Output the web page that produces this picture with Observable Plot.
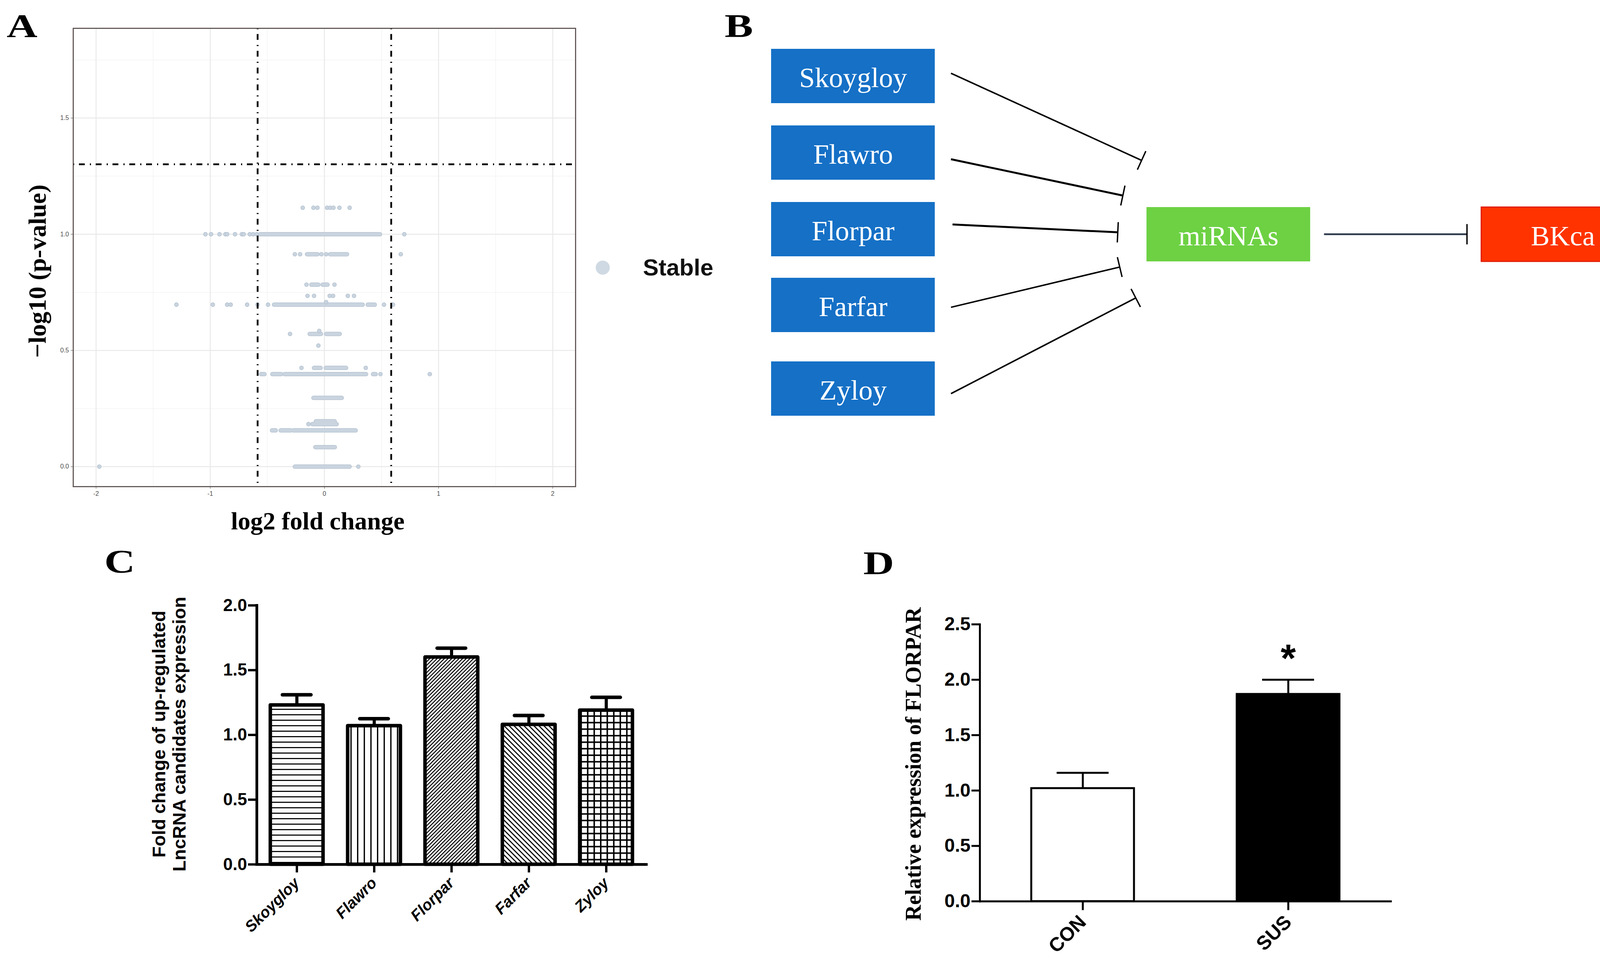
<!DOCTYPE html>
<html><head><meta charset="utf-8">
<script src="https://cdn.jsdelivr.net/npm/d3@7"></script>
<script src="https://cdn.jsdelivr.net/npm/@observablehq/plot@0.6"></script>
<style>
body{margin:0;background:#fff}
#root{position:relative;width:4227px;height:2475px;background:#fff;overflow:hidden}
.panel{position:absolute}
.panel svg{max-width:none !important;overflow:visible}
.letter{position:absolute;font-family:"Liberation Serif",serif;font-weight:bold;font-size:84px;line-height:1;transform:scaleX(1.3);transform-origin:left top;color:#000}
</style></head><body><div id="root"></div><script>
// ---------------- DATA ----------------
// Panel A: volcano plot (log2 fold change vs -log10 p)
const volcanoXTicks = [-2, -1, 0, 1, 2];
const volcanoXMinor = [-1.5, -0.5, 0.5, 1.5];
const volcanoYTicks = [0, 0.5, 1.0, 1.5];
const volcanoYMinor = [0.25, 0.75, 1.25, 1.75];
const foldThresholds = [-0.585, 0.585];
const pThreshold = 1.301;
// dense runs of overlapping points: [y, xStart, xEnd]
const volcanoRuns = [
  [1.0, -0.563, 0.487],
  [0.914, -0.152, -0.061], [0.914, 0.050, 0.198],
  [0.783, -0.114, -0.053], [0.783, -0.015, 0.027],
  [0.697, -0.441, 0.335], [0.697, 0.380, 0.441],
  [0.571, -0.129, -0.030], [0.571, 0.015, 0.134],
  [0.425, -0.091, -0.033], [0.425, 0.012, 0.190],
  [0.398, -0.555, -0.525], [0.398, -0.456, -0.380], [0.398, -0.350, 0.365], [0.398, 0.426, 0.449],
  [0.296, -0.096, 0.152],
  [0.195, -0.075, 0.090], [0.183, -0.105, 0.107],
  [0.156, -0.459, -0.426], [0.156, -0.383, -0.297], [0.156, -0.274, 0.274],
  [0.084, -0.079, 0.091],
  [0.0, -0.259, 0.221]
];
// isolated points: [y, [x values]]
const volcanoPoints = [
  [1.114, [-0.190, -0.096, -0.061, 0.023, 0.050, 0.079, 0.132, 0.221]],
  [1.0, [-1.042, -0.993, -0.919, -0.867, -0.852, -0.783, -0.723, -0.707, -0.654, -0.624, -0.593, 0.700]],
  [0.914, [-0.259, -0.213, -0.026, 0.015, 0.669]],
  [0.783, [-0.157, 0.088]],
  [0.735, [-0.148, -0.091, 0.046, 0.076, 0.205, 0.259]],
  [0.708, [0.015]],
  [0.697, [-1.296, -0.978, -0.852, -0.821, -0.677, -0.586, -0.494, 0.522, 0.601]],
  [0.584, [-0.045]],
  [0.571, [-0.301]],
  [0.521, [-0.053]],
  [0.425, [-0.201, 0.362]],
  [0.398, [0.491, 0.923]],
  [0.183, [-0.140]],
  [0.0, [-1.972, 0.297]]
];
const volcanoXLabel = "log2 fold change";
const volcanoYLabel = "\u2212log10 (p-value)";
const volcanoLegend = "Stable";

// Panel B: regulatory diagram
const lncNames = ["Skoygloy", "Flawro", "Florpar", "Farfar", "Zyloy"];
const hubName = "miRNAs";
const targetName = "BKca";

// Panel C: fold change of up-regulated lncRNA candidates
const lncFold = [1.23, 1.07, 1.60, 1.08, 1.19];
const lncSem = [0.08, 0.055, 0.07, 0.07, 0.10];
const cTitle = "Fold change of up-regulated\nLncRNA candidates expression";
const cYTicks = [0, 0.5, 1.0, 1.5, 2.0];

// Panel D: relative expression of FLORPAR
const groupNames = ["CON", "SUS"];
const groupMean = [1.02, 1.87];
const groupSem = [0.14, 0.13];
const groupSig = ["", "*"];
const dTitle = "Relative expression of FLORPAR";
const dYTicks = [0, 0.5, 1.0, 1.5, 2.0, 2.5];

// ---------------- BUILD ----------------
const root = document.getElementById("root");
function place(el, left, top, w, h) {
  const d = document.createElement("div");
  d.className = "panel";
  d.style.left = left + "px"; d.style.top = top + "px";
  if (w) d.style.width = w + "px";
  if (h) d.style.height = h + "px";
  d.appendChild(el); root.appendChild(d); return d;
}
function letter(t, left, capTop) {
  const d = document.createElement("div");
  d.className = "letter"; d.textContent = t;
  d.style.left = left + "px"; d.style.top = (capTop - 15) + "px";
  root.appendChild(d);
}

// ---- Panel A ----
const runs = volcanoRuns.map(([y, x1, x2]) => ({y, x1, x2}));
const pts = volcanoPoints.flatMap(([y, xs]) => xs.map(x => ({x, y})));
const ptFill = "#c9d4df", ptStroke = "#b3c1cf";
const serif = "Liberation Serif";
const A = Plot.plot({
  width: 1500, height: 1400,
  marginLeft: 187, marginRight: 27, marginTop: 72, marginBottom: 155,
  x: {domain: [-2.2, 2.2]},
  y: {domain: [-0.086, 1.886]},
  style: {background: "transparent", overflow: "visible"},
  marks: [
    Plot.ruleX(volcanoXMinor, {stroke: "#f3f3f3", strokeWidth: 1.5}),
    Plot.ruleY(volcanoYMinor, {stroke: "#f3f3f3", strokeWidth: 1.5}),
    Plot.ruleX(volcanoXTicks, {stroke: "#e9e9e9", strokeWidth: 2.5}),
    Plot.ruleY(volcanoYTicks, {stroke: "#e9e9e9", strokeWidth: 2.5}),
    Plot.link(runs, {x1: "x1", x2: "x2", y1: "y", y2: "y", stroke: ptStroke, strokeWidth: 11, strokeLinecap: "round"}),
    Plot.link(runs, {x1: "x1", x2: "x2", y1: "y", y2: "y", stroke: ptFill, strokeWidth: 8.5, strokeLinecap: "round"}),
    Plot.dot(pts, {x: "x", y: "y", r: 5, fill: ptFill, stroke: ptStroke, strokeWidth: 1.3}),
    Plot.ruleX(foldThresholds, {stroke: "#000", strokeWidth: 4.5, strokeDasharray: "3,12,15,13"}),
    Plot.ruleY([pThreshold], {stroke: "#000", strokeWidth: 4.5, strokeDasharray: "3,12,15,13"}),
    Plot.frame({stroke: "#5f5353", strokeWidth: 2.8}),
    Plot.axisX({ticks: volcanoXTicks, tickFormat: d => String(d), tickSize: 6, tickPadding: 6, fontSize: 16, color: "#4d4d4d", label: null, fontFamily: "Liberation Sans"}),
    Plot.axisY({ticks: volcanoYTicks, tickFormat: d3.format(".1f"), tickSize: 6, tickPadding: 5, fontSize: 16, color: "#4d4d4d", label: null, fontFamily: "Liberation Sans"}),
    Plot.text([volcanoXLabel], {text: d => d, frameAnchor: "bottom", textAnchor: "middle", lineAnchor: "middle", dx: -17, dy: 89, fontSize: 64, fontWeight: "bold", fontFamily: serif, fill: "#000"}),
    Plot.text([volcanoYLabel], {text: d => d, frameAnchor: "left", textAnchor: "middle", lineAnchor: "middle", rotate: -90, dx: -91, dy: 35, fontSize: 64, fontWeight: "bold", fontFamily: serif, fill: "#000"})
  ]
});
place(A, 0, 0, 1500, 1400);

// legend for A
const leg = document.createElement("div");
leg.style.cssText = "position:absolute;left:1520px;top:650px;display:flex;align-items:center;gap:0;font-family:'Liberation Sans',sans-serif;font-weight:bold;font-size:60px;color:#111";
leg.innerHTML = `<svg width="46" height="46" style="margin-right:80px"><circle cx="23" cy="23" r="18" fill="#cfd9e3"/></svg><span>${volcanoLegend}</span>`;
root.appendChild(leg);

// ---- Panel B ----
const BW = 2377, BH = 1050;
const rowTops = [45, 241, 437, 631, 845];
const boxH = 139;
const nodes = [
  ...lncNames.map((n, i) => ({name: n, x1: 124, x2: 543, y1: rowTops[i], y2: rowTops[i] + boxH, fill: "#1570c6", stroke: "none"})),
  {name: hubName, x1: 1085, x2: 1504, y1: 450, y2: 589, fill: "#6dd143", stroke: "none"},
  {name: targetName, x1: 1942, x2: 2359, y1: 450, y2: 589, fill: "#ff3300", stroke: "#e01a00"}
];
const edgeEnds = [
  [[584, 107], [1072, 330]],
  [[584, 327], [1024, 420]],
  [[588, 494], [1011, 514]],
  [[584, 706], [1016, 603]],
  [[584, 927], [1057, 682]]
];
const edges = edgeEnds.map(([a, b], i) => ({x1: a[0], y1: a[1], x2: b[0], y2: b[1], stroke: "#000", w: i === 1 || i === 2 ? 5 : 3.8}));
edges.push({x1: 1539, y1: 519, x2: 1905, y2: 519, stroke: "#2c3a4a", w: 4.5});
const tbars = edges.map(e => {
  const dx = e.x2 - e.x1, dy = e.y2 - e.y1, L = Math.hypot(dx, dy);
  const px = -dy / L, py = dx / L, h = 26;
  return {x1: e.x2 + px * h, y1: e.y2 + py * h, x2: e.x2 - px * h, y2: e.y2 - py * h};
});
const B = Plot.plot({
  width: BW, height: BH, margin: 0, axis: null,
  x: {domain: [0, BW], range: [0, BW]},
  y: {domain: [0, BH], range: [0, BH]},
  style: {background: "transparent", overflow: "visible"},
  marks: [
    Plot.rect(nodes, {x1: "x1", x2: "x2", y1: "y1", y2: "y2", fill: d => d.fill, stroke: d => d.stroke, strokeWidth: 3}),
    Plot.text(nodes, {x: d => (d.x1 + d.x2) / 2, y: d => (d.y1 + d.y2) / 2, text: "name", dy: 5, fill: "#fff", fontSize: 72, fontFamily: serif}),
    Plot.link(edges, {x1: "x1", y1: "y1", x2: "x2", y2: "y2", stroke: d => d.stroke, strokeWidth: d => d.w}),
    Plot.link(tbars, {x1: "x1", y1: "y1", x2: "x2", y2: "y2", stroke: "#000", strokeWidth: 3.5})
  ]
});
place(B, 1850, 80, BW, BH);

// ---- Panel C ----
const lncData = lncNames.map((name, i) => ({name, fold: lncFold[i], sem: lncSem[i]}));
const sans = "Liberation Sans";
const C = Plot.plot({
  width: 1500, height: 1095,
  marginLeft: 457, marginRight: 46, marginTop: 169, marginBottom: 263,
  x: {domain: lncNames, paddingInner: 0.32, paddingOuter: 0.17},
  y: {domain: [0, 2]},
  style: {background: "transparent", overflow: "visible"},
  marks: [
    Plot.ruleX(lncData, {x: "name", y1: "fold", y2: d => d.fold + d.sem, stroke: "#000", strokeWidth: 8}),
    Plot.tickY(lncData, {x: "name", y: d => d.fold + d.sem, stroke: "#000", strokeWidth: 9, strokeLinecap: "round", insetLeft: 31, insetRight: 31}),
    ...lncNames.map((n, i) => Plot.barY(lncData.filter(d => d.name === n), {x: "name", y: "fold", fill: `url(#cpat${i})`, stroke: "#000", strokeWidth: 9, strokeLinejoin: "round"})),
    Plot.frame({anchor: "left", stroke: "#000", strokeWidth: 7}),
    Plot.frame({anchor: "bottom", stroke: "#000", strokeWidth: 7}),
    Plot.axisY({ticks: cYTicks, tickFormat: d3.format(".1f"), tickSize: 22, strokeWidth: 6, tickPadding: 3, fontSize: 44, fontWeight: "bold", fontFamily: sans, color: "#000", label: null}),
    Plot.axisX({tickSize: 21, strokeWidth: 6, tickRotate: -45, tickPadding: 20, fontSize: 40, fontWeight: "bold", fontStyle: "italic", fontFamily: sans, color: "#000", label: null}),
    Plot.text([cTitle], {text: d => d, frameAnchor: "left", textAnchor: "middle", lineAnchor: "middle", rotate: -90, dx: -225, dy: -2, fontSize: 47, fontWeight: "bold", fontFamily: sans, lineHeight: 1.1, fill: "#000"})
  ]
});
// hatch patterns for C bars
(function addPatterns(svg) {
  const defs = d3.select(svg).insert("defs", ":first-child");
  function pat(id, w, h, tr) {
    const p = defs.append("pattern").attr("id", id).attr("patternUnits", "userSpaceOnUse").attr("width", w).attr("height", h);
    if (tr) p.attr("patternTransform", tr);
    p.append("rect").attr("width", w).attr("height", h).attr("fill", "#fff");
    return p;
  }
  pat("cpat0", 14, 14).append("rect").attr("width", 14).attr("height", 2.8).attr("fill", "#000");
  pat("cpat1", 17, 17).append("rect").attr("width", 3.3).attr("height", 17).attr("fill", "#000");
  pat("cpat2", 6.6, 6.6, "rotate(45)").append("rect").attr("width", 2.5).attr("height", 6.6).attr("fill", "#000");
  pat("cpat3", 9, 9, "rotate(-45)").append("rect").attr("width", 2.8).attr("height", 9).attr("fill", "#000");
  const g = pat("cpat4", 16.7, 16.7);
  g.append("rect").attr("width", 16.7).attr("height", 3.8).attr("fill", "#000");
  g.append("rect").attr("width", 3.8).attr("height", 16.7).attr("fill", "#000");
})(C);
place(C, 200, 1380, 1500, 1095);

// ---- Panel D ----
const groupData = groupNames.map((name, i) => ({name, mean: groupMean[i], sem: groupSem[i], sig: groupSig[i]}));
const D = Plot.plot({
  width: 1500, height: 1125,
  marginLeft: 308, marginRight: 140, marginTop: 247.5, marginBottom: 168.6,
  x: {domain: groupNames, paddingInner: 0.5, paddingOuter: 0.25},
  y: {domain: [0, 2.5]},
  style: {background: "transparent", overflow: "visible"},
  marks: [
    Plot.ruleX(groupData, {x: "name", y1: "mean", y2: d => d.mean + d.sem, stroke: "#000", strokeWidth: 5}),
    Plot.tickY(groupData, {x: "name", y: d => d.mean + d.sem, stroke: "#000", strokeWidth: 5, insetLeft: 65, insetRight: 65}),
    Plot.barY(groupData, {x: "name", y: "mean", fill: d => d.name === "CON" ? "#fff" : "#000", stroke: "#000", strokeWidth: 5}),
    Plot.text(groupData.filter(d => d.sig), {x: "name", y: d => d.mean + d.sem, text: "sig", dy: -53, fontSize: 100, fontWeight: "bold", fontFamily: sans, fill: "#000"}),
    Plot.frame({anchor: "left", stroke: "#000", strokeWidth: 5}),
    Plot.frame({anchor: "bottom", stroke: "#000", strokeWidth: 5}),
    Plot.axisY({ticks: dYTicks, tickFormat: d3.format(".1f"), tickSize: 21, strokeWidth: 5, tickPadding: 3, fontSize: 48, fontWeight: "bold", fontFamily: sans, color: "#000", label: null}),
    Plot.axisX({tickSize: 23, strokeWidth: 5, tickRotate: -45, tickPadding: 22, fontSize: 50, fontWeight: "bold", fontFamily: sans, color: "#000", label: null}),
    Plot.text([dTitle], {text: d => d, frameAnchor: "left", textAnchor: "middle", lineAnchor: "middle", rotate: -90, dx: -169, dy: 3, fontSize: 56, fontWeight: "bold", fontFamily: serif, fill: "#000"})
  ]
});
place(D, 2200, 1350, 1500, 1125);

letter("A", 17, 40);
letter("B", 1855, 40);
letter("C", 267, 1411);
letter("D", 2210, 1415);
</script></body></html>
